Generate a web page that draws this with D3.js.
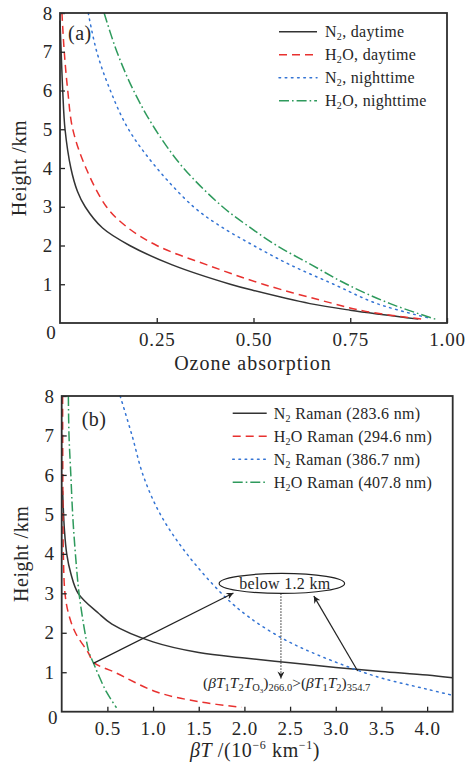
<!DOCTYPE html>
<html>
<head>
<meta charset="utf-8">
<script src="https://cdn.jsdelivr.net/npm/d3@7"></script>
<style>
  body { margin: 0; background: #fff; }
  svg { display: block; }
  text { font-family: "Liberation Serif", "Times New Roman", serif; fill: #262626; }
</style>
</head>
<body>
<svg id="chart" width="470" height="767"></svg>
<script>
// ---------- Panel (a): ozone absorption vs height ----------
const absN2Day    = [0.000, 0.003, 0.007, 0.013, 0.028, 0.045, 0.065, 0.110, 0.180, 0.290, 0.440, 0.500, 0.646, 0.750, 0.926];
const hN2Day      = [7.8,   7.0,   6.0,   5.0,   4.0,   3.4,   3.0,   2.45,  2.0,   1.5,   1.0,   0.84,  0.5,   0.33,  0.10];
const absH2ODay   = [0.005, 0.011, 0.020, 0.033, 0.067, 0.120, 0.170, 0.250, 0.380, 0.525, 0.707, 0.790, 0.935];
const hH2ODay     = [8.0,   7.0,   6.0,   5.0,   4.0,   3.0,   2.5,   2.0,   1.5,   1.0,   0.5,   0.3,   0.10];
const absN2Night  = [0.073, 0.095, 0.130, 0.177, 0.250, 0.345, 0.414, 0.500, 0.595, 0.707, 0.819, 0.957];
const hN2Night    = [8.0,   7.0,   6.0,   5.0,   4.0,   3.0,   2.5,   2.0,   1.5,   1.0,   0.5,   0.12];
const absH2ONight = [0.114, 0.147, 0.190, 0.246, 0.319, 0.420, 0.486, 0.560, 0.650, 0.741, 0.853, 0.976];
const hH2ONight   = [8.0,   7.0,   6.0,   5.0,   4.0,   3.0,   2.5,   2.0,   1.5,   1.0,   0.5,   0.08];

const seriesNamesA = ["N₂, daytime", "H₂O, daytime", "N₂, nighttime", "H₂O, nighttime"];
const xTicksA = [0.25, 0.50, 0.75, 1.00];
const xTickLabelsA = ["0.25", "0.50", "0.75", "1.00"];

// ---------- Panel (b): βT vs height ----------
const btN2_283  = [0.010, 0.030, 0.055, 0.100, 0.180, 0.400, 0.550, 1.00, 1.50, 2.00, 2.50, 3.00, 3.50, 4.00, 4.28];
const hN2_283   = [5.6,   4.6,   4.0,   3.5,   3.0,   2.5,   2.22,  1.77, 1.50, 1.36, 1.24, 1.12, 1.02, 0.93, 0.86];
const btH2O_294 = [0.010, 0.012, 0.018, 0.036, 0.073, 0.150, 0.290, 0.350, 0.580, 1.04, 1.51, 1.97];
const hH2O_294  = [8.0,   6.0,   4.0,   3.0,   2.5,   2.0,   1.5,   1.25,  1.0,   0.5,  0.25, 0.11];
const btN2_386  = [0.64, 0.77, 0.89, 1.08, 1.37, 1.77, 2.06, 2.43, 2.79, 3.24, 3.52, 4.00, 4.27];
const hN2_386   = [8.0,  7.0,  6.0,  5.0,  4.0,  2.95, 2.38, 1.84, 1.45, 1.05, 0.84, 0.57, 0.42];
const btH2O_407 = [0.073, 0.080, 0.100, 0.120, 0.150, 0.190, 0.255, 0.300, 0.350, 0.390, 0.490, 0.600];
const hH2O_407  = [8.0,   7.0,   6.0,   5.0,   4.0,   3.0,   2.0,   1.5,   1.22,  1.0,   0.5,   0.10];

const seriesNamesB = ["N₂ Raman (283.6 nm)", "H₂O Raman (294.6 nm)", "N₂ Raman (386.7 nm)", "H₂O Raman (407.8 nm)"];
const xTicksB = [0.5, 1.0, 1.5, 2.0, 2.5, 3.0, 3.5, 4.0];
const yTicks = [1, 2, 3, 4, 5, 6, 7, 8];

// Annotation in panel (b), in data units (βT, height)
const noteCenter = [2.41, 3.25];
const noteArrowFrom = [[0.346, 1.225], [3.24, 1.03]];
const noteArrowTo   = [[1.88, 3.01], [2.76, 2.93]];
const noteDropFrom = [2.40, 3.00];
const noteDropTo   = [2.40, 0.84];

// ---------- styles ----------
const styles = [
  { color: "#333333", dash: null },
  { color: "#e8312f", dash: "8,5" },
  { color: "#3474d4", dash: "1.6,4.6" },
  { color: "#2e9a5c", dash: "10,3,1.6,3" }
];

const svg = d3.select("#chart");
const zip = (xs, ys) => xs.map((v, i) => [v, ys[i]]);

svg.append("defs").append("marker")
  .attr("id", "arrowhead")
  .attr("viewBox", "0 0 10 10")
  .attr("refX", 10).attr("refY", 5)
  .attr("markerWidth", 9).attr("markerHeight", 7)
  .attr("markerUnits", "userSpaceOnUse")
  .attr("orient", "auto")
  .append("path").attr("d", "M0,0 L10,5 L0,10 L3,5 Z").attr("fill", "#222");

function drawPanel(cfg) {
  const x = d3.scaleLinear().domain(cfg.xDomain).range([cfg.left, cfg.right]);
  const y = d3.scaleLinear().domain([0, 8]).range([cfg.bottom, cfg.top]);
  const g = svg.append("g");

  // curves
  const line = d3.line().x(d => x(d[0])).y(d => y(d[1])).curve(d3.curveCatmullRom.alpha(0.5));
  cfg.series.forEach((s, i) => {
    g.append("path")
      .datum(zip(s[0], s[1]))
      .attr("d", line)
      .attr("fill", "none")
      .attr("stroke", styles[i].color)
      .attr("stroke-width", 1.5)
      .attr("stroke-linecap", i === 2 ? "round" : "butt")
      .attr("stroke-dasharray", styles[i].dash);
  });

  // axes with inward ticks
  const xAxis = d3.axisBottom(x)
    .tickValues(cfg.xTicks)
    .tickFormat((d, i) => cfg.xTickLabels[i])
    .tickSizeInner(-5).tickSizeOuter(0).tickPadding(10);
  const gx = g.append("g").attr("transform", `translate(0,${cfg.bottom})`).call(xAxis);
  const yAxis = d3.axisLeft(y).tickValues(yTicks).tickFormat(d3.format("d"))
    .tickSizeInner(-5).tickSizeOuter(0).tickPadding(7);
  const gy = g.append("g").attr("transform", `translate(${cfg.left},0)`).call(yAxis);
  [gx, gy].forEach(a => {
    a.select(".domain").remove();
    a.selectAll(".tick line").attr("stroke", "#222").attr("stroke-width", 1.3);
    a.selectAll(".tick text")
      .attr("fill", "#262626")
      .style("font-family", '"Liberation Serif", serif')
      .style("font-size", "19px")
      .style("letter-spacing", "0.8px");
  });

  // shared origin label
  g.append("text")
    .attr("x", cfg.left - 9).attr("y", y(0) + cfg.zeroDrop)
    .attr("text-anchor", "middle")
    .style("font-size", "19px")
    .text("0");

  // frame
  g.append("rect")
    .attr("x", cfg.left).attr("y", cfg.top)
    .attr("width", cfg.right - cfg.left).attr("height", cfg.bottom - cfg.top)
    .attr("fill", "none").attr("stroke", "#2e2e2e").attr("stroke-width", 1.8);

  // y title
  g.append("text")
    .attr("transform", `translate(${cfg.left - 34},${(cfg.top + cfg.bottom) / 2}) rotate(-90)`)
    .attr("text-anchor", "middle")
    .style("font-size", "20px").style("letter-spacing", "0.6px")
    .text("Height /km");

  // panel tag
  g.append("text")
    .attr("x", cfg.left + cfg.tagDx).attr("y", cfg.top + cfg.tagDy)
    .style("font-size", "20px").style("letter-spacing", "0.5px")
    .text(cfg.tag);

  // legend
  cfg.names.forEach((name, i) => {
    const ly = cfg.top + cfg.legTop + i * 23;
    g.append("line")
      .attr("x1", cfg.legX1).attr("x2", cfg.legX2)
      .attr("y1", ly).attr("y2", ly)
      .attr("stroke", styles[i].color).attr("stroke-width", 1.5)
      .attr("stroke-linecap", i === 2 ? "round" : "butt")
      .attr("stroke-dasharray", styles[i].dash);
    const t = g.append("text")
      .attr("x", cfg.legX2 + cfg.legGap).attr("y", ly + 5.5)
      .style("font-size", "16px").style("letter-spacing", "0.3px");
    // split at the subscript digit
    const m = name.match(/^(.*?)([₂])(.*)$/);
    t.append("tspan").text(m[1]);
    t.append("tspan").attr("dy", 3).style("font-size", "10px").text("2");
    t.append("tspan").attr("dy", -3).text(m[3]);
  });

  return { x, y, g };
}

// ---------- Panel (a) ----------
const pa = drawPanel({
  left: 60, right: 447, top: 13, bottom: 323, xDomain: [0, 1],
  xTicks: xTicksA, xTickLabels: xTickLabelsA, zeroDrop: 16,
  series: [[absN2Day, hN2Day], [absH2ODay, hH2ODay], [absN2Night, hN2Night], [absH2ONight, hH2ONight]],
  names: seriesNamesA, tag: "(a)", tagDx: 8, tagDy: 27,
  legX1: 279, legX2: 317, legGap: 8, legTop: 18.7
});
pa.g.append("text")
  .attr("x", 253).attr("y", 370)
  .attr("text-anchor", "middle")
  .style("font-size", "20px").style("letter-spacing", "1px")
  .text("Ozone absorption");

// ---------- Panel (b) ----------
const pb = drawPanel({
  left: 61.7, right: 452.7, top: 396, bottom: 711.7, xDomain: [0, 4.28],
  xTicks: xTicksB, xTickLabels: xTicksB.map(d3.format(".1f")), zeroDrop: 12,
  series: [[btN2_283, hN2_283], [btH2O_294, hH2O_294], [btN2_386, hN2_386], [btH2O_407, hH2O_407]],
  names: seriesNamesB, tag: "(b)", tagDx: 20, tagDy: 29.5,
  legX1: 232.7, legX2: 266.7, legGap: 7, legTop: 17.3
});

// x title of panel (b)
const xt = pb.g.append("text")
  .attr("x", 255).attr("y", 757)
  .attr("text-anchor", "middle")
  .style("font-size", "20px").style("letter-spacing", "0.6px");
xt.append("tspan").style("font-style", "italic").text("βT");
xt.append("tspan").text(" /(10");
xt.append("tspan").attr("dy", -8).style("font-size", "12px").text("−6");
xt.append("tspan").attr("dy", 8).text(" km");
xt.append("tspan").attr("dy", -8).style("font-size", "12px").text("−1");
xt.append("tspan").attr("dy", 8).text(")");

// annotation
const X = pb.x, Y = pb.y;
pb.g.append("ellipse")
  .attr("cx", X(noteCenter[0])).attr("cy", Y(noteCenter[1]))
  .attr("rx", 62.7).attr("ry", 10)
  .attr("fill", "none").attr("stroke", "#222").attr("stroke-width", 1.2);
pb.g.append("text")
  .attr("x", X(noteCenter[0]) + 3).attr("y", Y(noteCenter[1]) + 5.5)
  .attr("text-anchor", "middle")
  .style("font-size", "16px").style("letter-spacing", "0.3px")
  .text("below 1.2 km");
noteArrowFrom.forEach((p, i) => {
  pb.g.append("line")
    .attr("x1", X(p[0])).attr("y1", Y(p[1]))
    .attr("x2", X(noteArrowTo[i][0])).attr("y2", Y(noteArrowTo[i][1]))
    .attr("stroke", "#222").attr("stroke-width", 1.2)
    .attr("marker-end", "url(#arrowhead)");
});
pb.g.append("line")
  .attr("x1", X(noteDropFrom[0])).attr("y1", Y(noteDropFrom[1]))
  .attr("x2", X(noteDropTo[0])).attr("y2", Y(noteDropTo[1]))
  .attr("stroke", "#222").attr("stroke-width", 1)
  .attr("stroke-dasharray", "1.5,1.5")
  .attr("marker-end", "url(#arrowhead)");

// inequality label
const eq = pb.g.append("text")
  .attr("x", 203).attr("y", 688)
  .style("font-size", "15.5px");
const sub = (txt, dy) => eq.append("tspan").attr("dy", dy).style("font-size", "10.5px").text(txt);
const main = (txt, dy, it) => {
  const t = eq.append("tspan").attr("dy", dy).text(txt);
  if (it) t.style("font-style", "italic");
  return t;
};
main("(", 0); main("βT", 0, true); sub("1", 3); main("T", -3, true); sub("2", 3); main("T", -3, true);
sub("O", 3); eq.append("tspan").attr("dy", 2).style("font-size", "7px").text("3");
main(")", -5); sub("266.0", 3); main(">(", -3); main("βT", 0, true); sub("1", 3); main("T", -3, true);
sub("2", 3); main(")", -3); sub("354.7", 3);
</script>
</body>
</html>
